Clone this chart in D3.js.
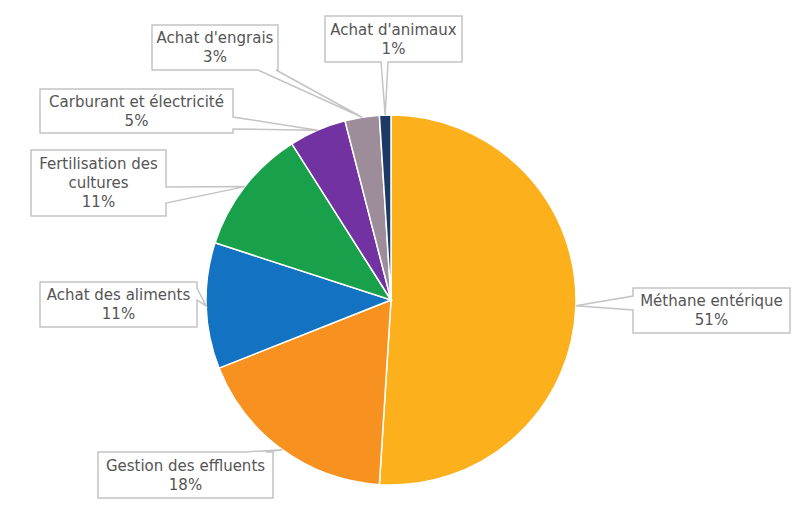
<!DOCTYPE html>
<meta charset="utf-8">
<head>
	<title>Pie - sources d'émissions</title>
</head>
<style>
body{
	margin: 0;
	background: #fff;
}
.slice{
	stroke: #fff;
	stroke-width: 1.5;
}
.callout{
	fill: #fff;
	stroke: #c4c4c4;
	stroke-width: 1.5;
}
.label{
	font-family: "DejaVu Sans", sans-serif;
	font-size: 15px;
	fill: #555;
	text-anchor: middle;
}
</style>
<body>
<svg width="800" height="510"></svg>

<script src="https://cdnjs.cloudflare.com/ajax/libs/d3/7.8.5/d3.min.js"></script>
<script>

// données
var categories = ['Méthane entérique', 'Gestion des effluents', 'Achat des aliments',
	'Fertilisation des cultures', 'Carburant et électricité', "Achat d'engrais", "Achat d'animaux"];
var values = [51, 18, 11, 11, 5, 3, 1];
var pctLabels = ['51%', '18%', '11%', '11%', '5%', '3%', '1%'];
var colors = ['#fbb01c', '#f7911f', '#1372c1', '#18a04a', '#7232a1', '#9d8c99', '#1d3a66'];

// mise en page des étiquettes (boîte + côté de la pointe)
var boxes = [
	{x: 633, y: 288, w: 157, h: 45, side: 'left', a: 296, b: 310, lines: ['Méthane entérique']},
	{x: 98, y: 452, w: 175, h: 46, side: 'top', a: 244, b: 266, lines: ['Gestion des effluents']},
	{x: 40, y: 282, w: 157, h: 45, side: 'right', a: 288, b: 300, lines: ['Achat des aliments']},
	{x: 31, y: 150, w: 135, h: 66, side: 'right', a: 187, b: 203, lines: ['Fertilisation des', 'cultures']},
	{x: 40, y: 89, w: 193, h: 44, side: 'right', a: 117, b: 129, lines: ['Carburant et électricité']},
	{x: 152, y: 25, w: 126, h: 45, side: 'bottom', a: 258, b: 276, lines: ["Achat d'engrais"]},
	{x: 325, y: 16, w: 137, h: 46, side: 'bottom', a: 381, b: 388, lines: ["Achat d'animaux"]}
];

var cx = 391, cy = 300, r = 185;
var svg = d3.select('svg');

var pie = d3.pie().sort(null).value(function(d){ return d; });
var arcs = pie(values);
var arc = d3.arc().innerRadius(0).outerRadius(r);

// pointes des bulles (au bord de la part)
function tip(d){
	var a = (d.startAngle + d.endAngle) / 2;
	return [cx + r * Math.sin(a), cy - r * Math.cos(a)];
}

function calloutPath(b, t){
	var x = b.x, y = b.y, w = b.w, h = b.h;
	var p = d3.path();
	p.moveTo(x, y);
	if(b.side == 'top'){ p.lineTo(b.a, y); p.lineTo(t[0], t[1]); p.lineTo(b.b, y); }
	p.lineTo(x + w, y);
	if(b.side == 'right'){ p.lineTo(x + w, b.a); p.lineTo(t[0], t[1]); p.lineTo(x + w, b.b); }
	p.lineTo(x + w, y + h);
	if(b.side == 'bottom'){ p.lineTo(b.b, y + h); p.lineTo(t[0], t[1]); p.lineTo(b.a, y + h); }
	p.lineTo(x, y + h);
	if(b.side == 'left'){ p.lineTo(x, b.b); p.lineTo(t[0], t[1]); p.lineTo(x, b.a); }
	p.closePath();
	return p.toString();
}

svg.append('g')
	.attr('transform', 'translate(' + cx + ',' + cy + ')')
	.selectAll('path')
	.data(arcs)
	.enter()
	.append('path')
	.attr('class', 'slice')
	.attr('d', arc)
	.attr('fill', function(d, i){ return colors[i]; });

var lab = svg.append('g')
	.selectAll('g')
	.data(arcs)
	.enter()
	.append('g');

lab.append('path')
	.attr('class', 'callout')
	.attr('d', function(d, i){ return calloutPath(boxes[i], tip(d)); });

lab.each(function(d, i){
	var b = boxes[i];
	var lines = b.lines.concat([pctLabels[i]]);
	var lh = 19;
	var y0 = b.y + b.h / 2 - (lines.length - 1) * lh / 2 + 5;
	var t = d3.select(this).append('text')
		.attr('class', 'label');
	lines.forEach(function(s, k){
		t.append('tspan')
			.attr('x', b.x + b.w / 2)
			.attr('y', y0 + k * lh)
			.text(s);
	});
});

</script>
</body>
</html>
